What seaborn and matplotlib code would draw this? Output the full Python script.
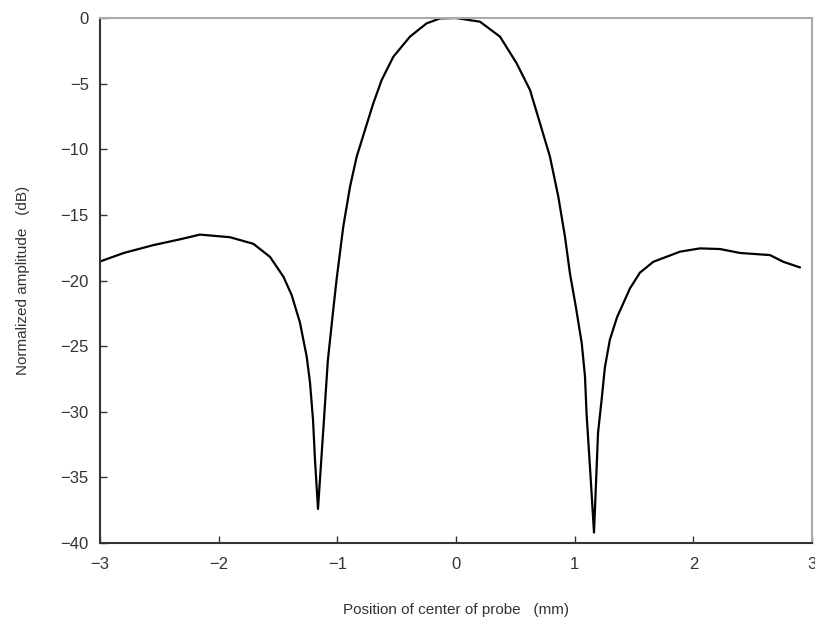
import matplotlib
matplotlib.use("Agg")
import matplotlib.pyplot as plt
import seaborn as sns
import pandas as pd

position_mm = [-3.0, -2.80, -2.55, -2.326, -2.157, -1.905, -1.708, -1.567, -1.455, -1.385, -1.315, -1.258,
               -1.23, -1.205, -1.188, -1.163, -1.12, -1.08, -1.034, -1.006, -0.95, -0.893, -0.837, -0.767,
               -0.697, -0.626, -0.528, -0.388, -0.248, -0.135, 0.0, 0.202, 0.371, 0.511, 0.624, 0.708,
               0.792, 0.862, 0.919, 0.961, 1.01, 1.06, 1.087, 1.10, 1.129, 1.163, 1.197, 1.227, 1.255,
               1.297, 1.357, 1.466, 1.55, 1.663, 1.888, 2.056, 2.225, 2.393, 2.646, 2.758, 2.899]
amplitude_db = [-18.55, -17.9, -17.3, -16.86, -16.5, -16.7, -17.2, -18.2, -19.7, -21.1, -23.2, -25.8,
                -27.8, -30.6, -33.7, -37.4, -31.6, -26.1, -22.2, -19.9, -15.9, -12.85, -10.57, -8.53,
                -6.5, -4.72, -2.95, -1.42, -0.41, -0.03, 0.0, -0.28, -1.42, -3.45, -5.49, -8.02,
                -10.57, -13.6, -16.7, -19.5, -22.0, -24.8, -27.3, -30.1, -34.2, -39.2, -31.6, -29.1, -26.6,
                -24.5, -22.8, -20.6, -19.4, -18.57, -17.8, -17.55, -17.6, -17.9, -18.06, -18.57, -19.0]
x_ticks = [-3, -2, -1, 0, 1, 2, 3]
y_ticks = [0, -5, -10, -15, -20, -25, -30, -35, -40]

df = pd.DataFrame({"x": position_mm, "y": amplitude_db})

sns.set_theme(style="white")
plt.rcParams['font.family'] = ['Liberation Sans', 'DejaVu Sans']

fig = plt.figure(figsize=(8.15, 6.3), dpi=100)
ax = fig.add_axes([0.1227, 0.138, 0.8736, 0.8334])
sns.lineplot(data=df, x="x", y="y", ax=ax, color="black", linewidth=1.6,
             sort=False, estimator=None)

ax.set_xlim(-3, 3)
ax.set_ylim(-40, 0)
ax.set_xticks(x_ticks)
ax.set_yticks(y_ticks)
ax.set_xticklabels([f"{t}".replace("-", "\u2212") for t in x_ticks])
ax.set_yticklabels([f"{t}".replace("-", "\u2212") for t in y_ticks])
ax.tick_params(axis="both", direction="in", length=5, width=1, colors="#333333",
               labelsize=12, labelcolor="#333333", bottom=True, left=True, pad=8)
ax.tick_params(axis="x", pad=10)

for side in ["left", "bottom"]:
    ax.spines[side].set_color("#333333")
    ax.spines[side].set_linewidth(1.5)
for side in ["top", "right"]:
    ax.spines[side].set_color("#aaaaaa")
    ax.spines[side].set_linewidth(1.5)

ax.set_xlabel("Position of center of probe   (mm)", fontsize=11, color="#333333", labelpad=22)
ax.set_ylabel("Normalized amplitude   (dB)", fontsize=11, color="#333333", labelpad=22)

fig.savefig("out.png", dpi=100)
